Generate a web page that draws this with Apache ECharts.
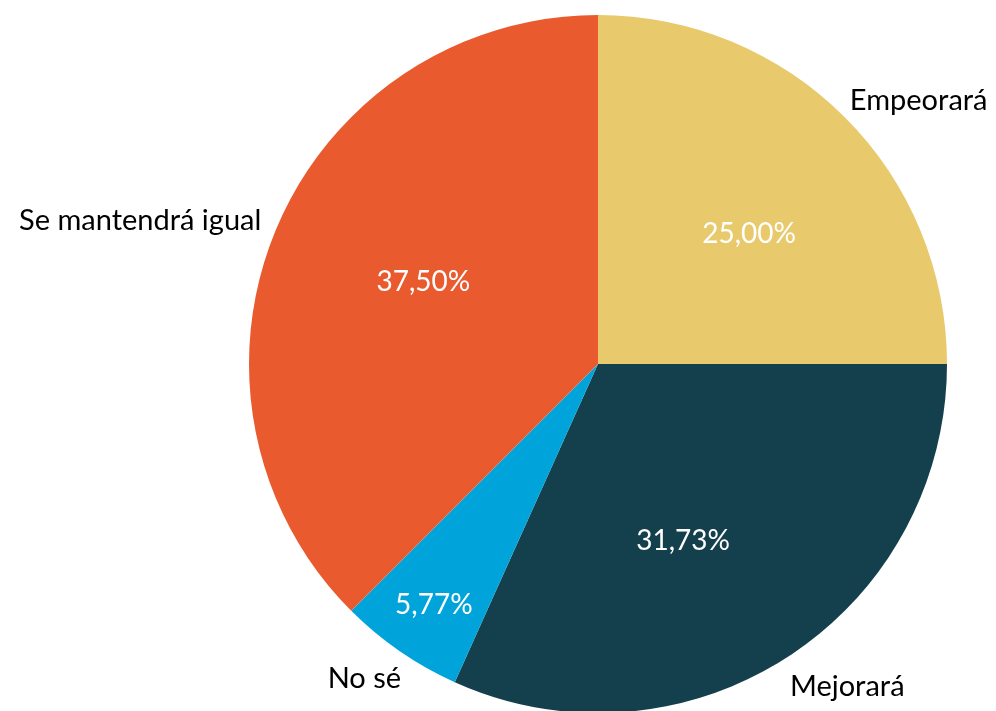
<!DOCTYPE html>
<html>
<head>
<meta charset="utf-8">
<script src="https://cdn.jsdelivr.net/npm/echarts@6/dist/echarts.min.js"></script>
<style>
  html, body { margin: 0; padding: 0; background: #fff; }
  #chart { width: 996px; height: 711px; }
</style>
</head>
<body>
<div id="chart"></div>
<script>
const categories = ['Empeorará', 'Mejorará', 'No sé', 'Se mantendrá igual'];
const values = [25.00, 31.73, 5.77, 37.50];
const colors = ['#E8C96B', '#143F4C', '#00A3DA', '#EA5A2F'];

const fontFamily = 'Lato, "Open Sans", sans-serif';
const pieData = categories.map((name, i) => ({
  name: name,
  value: values[i],
  itemStyle: { color: colors[i] }
}));

// small nudges so labels sit where Excel put them
const nameShift = [[-7, -10], [-8, 21], [12, 19], [0, -6]];
const pctShift = [[9, 12], [-24, 8], [-50, 76], [11, -5]];

const myChart = echarts.init(document.getElementById('chart'));
myChart.setOption({
  animation: false,
  series: [
    {
      // slices + category names outside
      type: 'pie',
      center: [598, 364],
      radius: [0, 349],
      startAngle: 90,
      clockwise: true,
      avoidLabelOverlap: false,
      data: pieData,
      label: {
        show: true,
        position: 'outside',
        formatter: '{b}',
        color: '#000',
        fontSize: 29,
        fontFamily: fontFamily
      },
      labelLine: { show: false, length: 10, length2: 0 },
      labelLayout: p => ({ dx: nameShift[p.dataIndex][0], dy: nameShift[p.dataIndex][1] }),
      emphasis: { disabled: true }
    },
    {
      // transparent overlay to place the percentages inside the slices
      type: 'pie',
      center: [598, 364],
      radius: [0, 396],
      startAngle: 90,
      clockwise: true,
      silent: true,
      data: pieData.map(d => ({ name: d.name, value: d.value })),
      itemStyle: { color: 'rgba(0,0,0,0)' },
      label: {
        show: true,
        position: 'inside',
        formatter: p => p.value.toFixed(2).replace('.', ',') + '%',
        color: '#fff',
        fontSize: 28,
        fontFamily: fontFamily
      },
      labelLayout: p => ({ dx: pctShift[p.dataIndex][0], dy: pctShift[p.dataIndex][1] }),
      emphasis: { disabled: true }
    }
  ]
});
</script>
</body>
</html>
